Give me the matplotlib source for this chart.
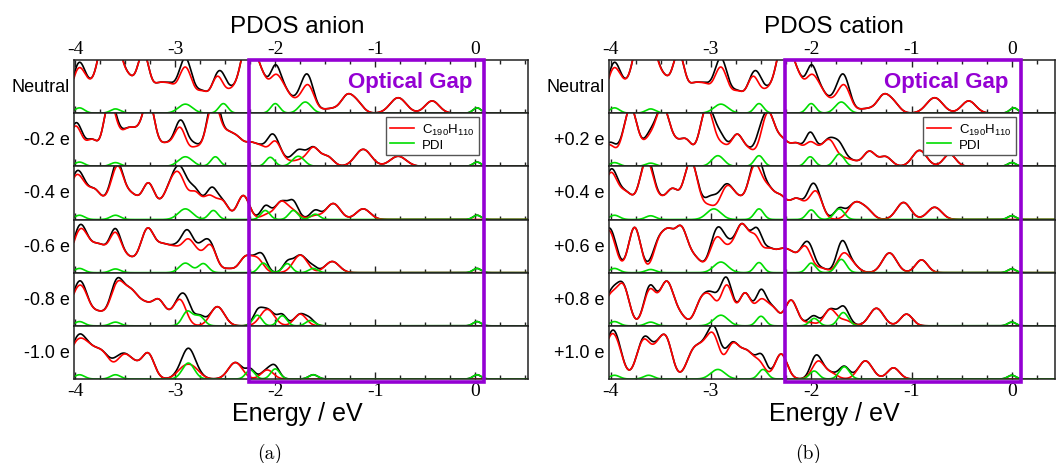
import numpy as np
import matplotlib.pyplot as plt
from matplotlib import transforms
from matplotlib.patches import Rectangle
from matplotlib.ticker import FixedLocator, FixedFormatter, MultipleLocator

plt.rcParams['font.family'] = ['Liberation Sans', 'DejaVu Sans']
plt.rcParams['mathtext.fontset'] = 'custom'
plt.rcParams['mathtext.rm'] = 'Liberation Sans'
plt.rcParams['mathtext.it'] = 'Liberation Sans:italic'
plt.rcParams['axes.unicode_minus'] = False

# levels: (energy eV, height, broadening eV)
neutral_c190 = [(-3.97, 0.8, 0.07), (-3.86, 0.25, 0.06), (-3.72, 1.2, 0.07), (-3.6, 1.2, 0.07),
                (-3.46, 0.5, 0.06), (-3.32, 1.1, 0.06), (-3.17, 0.45, 0.06), (-3.06, 0.42, 0.06),
                (-2.9, 0.85, 0.07), (-2.73, 0.35, 0.06), (-2.58, 0.65, 0.06), (-2.45, 0.3, 0.06),
                (-2.27, 1.4, 0.08), (-2.13, 0.45, 0.06), (-2.0, 0.6, 0.06), (-1.9, 0.33, 0.06),
                (-1.78, 0.17, 0.06), (-1.67, 0.5, 0.06), (-1.5, 0.05, 0.07), (-1.4, 0.06, 0.07),
                (-1.28, 0.3, 0.06), (-1.18, 0.18, 0.06), (-0.77, 0.29, 0.08), (-0.43, 0.23, 0.07)]
neutral_pdi = [(-3.96, 0.1, 0.05), (-3.6, 0.08, 0.05), (-2.9, 0.17, 0.07), (-2.52, 0.18, 0.045),
               (-2.0, 0.18, 0.045), (-1.7, 0.21, 0.06), (0.02, 0.1, 0.04)]

anion_labels = ['Neutral', '-0.2 e', '-0.4 e', '-0.6 e', '-0.8 e', '-1.0 e']
anion_c190 = [
    neutral_c190,
    [(-4.0, 0.75, 0.07), (-3.83, 0.45, 0.06), (-3.66, 1.2, 0.06), (-3.56, 0.25, 0.05), (-3.47, 0.6, 0.06),
     (-3.38, 0.35, 0.05), (-3.27, 1.2, 0.06), (-3.1, 0.4, 0.08), (-2.95, 0.65, 0.06), (-2.8, 0.3, 0.06),
     (-2.62, 1.2, 0.07), (-2.47, 0.45, 0.06), (-2.37, 0.4, 0.06), (-2.25, 0.35, 0.06), (-2.14, 0.3, 0.06),
     (-2.0, 0.45, 0.06), (-1.87, 0.07, 0.06), (-1.75, 0.1, 0.06), (-1.62, 0.34, 0.06), (-1.48, 0.18, 0.06),
     (-1.12, 0.32, 0.08), (-0.77, 0.19, 0.08)],
    [(-4.0, 0.75, 0.07), (-3.9, 0.3, 0.06), (-3.8, 0.45, 0.06), (-3.68, 0.25, 0.06), (-3.58, 0.85, 0.06),
     (-3.44, 0.45, 0.08), (-3.27, 0.6, 0.06), (-3.12, 0.25, 0.08), (-3.05, 0.25, 0.06), (-2.96, 0.75, 0.07),
     (-2.8, 0.45, 0.06), (-2.66, 0.4, 0.06), (-2.53, 0.33, 0.06), (-2.32, 0.45, 0.06), (-2.08, 0.09, 0.06),
     (-1.94, 0.32, 0.06), (-1.82, 0.15, 0.06), (-1.6, 0.07, 0.06), (-1.42, 0.3, 0.07), (-1.12, 0.2, 0.07)],
    [(-3.95, 0.8, 0.08), (-3.76, 0.48, 0.08), (-3.6, 0.65, 0.06), (-3.47, 0.25, 0.07), (-3.28, 0.8, 0.07),
     (-3.12, 0.45, 0.07), (-3.0, 0.33, 0.06), (-2.88, 0.52, 0.06), (-2.78, 0.28, 0.06), (-2.65, 0.5, 0.06),
     (-2.47, 0.07, 0.06), (-2.3, 0.28, 0.06), (-2.18, 0.25, 0.06), (-1.75, 0.33, 0.07), (-1.43, 0.21, 0.07)],
    [(-4.0, 0.5, 0.07), (-3.92, 0.4, 0.06), (-3.78, 0.25, 0.08), (-3.58, 0.75, 0.07), (-3.44, 0.55, 0.07),
     (-3.3, 0.35, 0.07), (-3.17, 0.4, 0.06), (-3.06, 0.15, 0.07), (-2.95, 0.45, 0.06), (-2.58, 0.36, 0.07),
     (-2.08, 0.31, 0.07), (-1.75, 0.22, 0.06)],
    [(-4.0, 0.55, 0.08), (-3.88, 0.45, 0.08), (-3.73, 0.45, 0.08), (-3.52, 0.4, 0.07), (-3.4, 0.22, 0.07),
     (-3.27, 0.45, 0.06), (-2.92, 0.18, 0.07), (-2.82, 0.18, 0.07), (-2.4, 0.31, 0.07), (-2.08, 0.17, 0.06)],
]
anion_pdi = [
    neutral_pdi,
    [(-3.96, 0.08, 0.05), (-3.6, 0.07, 0.05), (-2.9, 0.18, 0.07), (-2.6, 0.18, 0.045), (-2.05, 0.17, 0.045),
     (-1.77, 0.19, 0.06), (0.02, 0.08, 0.04)],
    [(-3.96, 0.08, 0.05), (-3.6, 0.08, 0.05), (-2.9, 0.2, 0.07), (-2.62, 0.17, 0.045), (-2.1, 0.17, 0.045),
     (-1.82, 0.17, 0.045), (-1.6, 0.1, 0.045), (0.02, 0.08, 0.04)],
    [(-3.96, 0.08, 0.05), (-3.6, 0.07, 0.05), (-2.9, 0.18, 0.06), (-2.72, 0.17, 0.05), (-2.12, 0.18, 0.045),
     (-1.88, 0.17, 0.045), (-1.62, 0.08, 0.045), (0.02, 0.08, 0.04)],
    [(-3.96, 0.08, 0.05), (-3.6, 0.07, 0.05), (-2.88, 0.27, 0.05), (-2.76, 0.18, 0.05), (-2.18, 0.2, 0.045),
     (-1.93, 0.19, 0.045), (-1.65, 0.1, 0.045), (0.02, 0.08, 0.04)],
    [(-3.96, 0.08, 0.05), (-3.6, 0.08, 0.05), (-2.87, 0.3, 0.06), (-2.25, 0.17, 0.045), (-2.0, 0.19, 0.045),
     (-1.62, 0.08, 0.045), (0.02, 0.08, 0.04)],
]

cation_labels = ['Neutral', '+0.2 e', '+0.4 e', '+0.6 e', '+0.8 e', '+1.0 e']
cation_c190 = [
    neutral_c190,
    [(-4.02, 0.4, 0.07), (-3.8, 1.1, 0.07), (-3.62, 0.4, 0.06), (-3.48, 1.1, 0.07), (-3.34, 0.28, 0.06),
     (-3.24, 0.42, 0.06), (-3.04, 1.1, 0.07), (-2.88, 0.32, 0.06), (-2.74, 0.55, 0.06), (-2.62, 0.25, 0.06),
     (-2.43, 1.0, 0.07), (-2.28, 0.4, 0.06), (-2.15, 0.38, 0.06), (-2.01, 0.4, 0.06), (-1.9, 0.2, 0.06),
     (-1.81, 0.42, 0.06), (-1.68, 0.12, 0.06), (-1.58, 0.08, 0.06), (-1.42, 0.28, 0.06), (-1.26, 0.18, 0.06),
     (-0.92, 0.3, 0.07), (-0.62, 0.23, 0.06)],
    [(-4.0, 0.85, 0.07), (-3.84, 0.45, 0.07), (-3.64, 1.1, 0.07), (-3.49, 0.25, 0.06), (-3.38, 0.5, 0.06),
     (-3.2, 1.1, 0.07), (-3.02, 0.22, 0.06), (-2.84, 0.6, 0.07), (-2.72, 0.25, 0.06), (-2.56, 1.0, 0.07),
     (-2.42, 0.45, 0.06), (-2.3, 0.38, 0.06), (-2.16, 0.33, 0.06), (-2.06, 0.18, 0.06), (-1.95, 0.5, 0.06),
     (-1.56, 0.31, 0.07), (-1.44, 0.15, 0.06), (-1.08, 0.32, 0.07), (-0.77, 0.23, 0.07)],
    [(-4.02, 0.8, 0.07), (-3.76, 0.85, 0.06), (-3.51, 0.6, 0.06), (-3.42, 0.45, 0.05), (-3.3, 0.85, 0.07),
     (-3.15, 0.22, 0.06), (-2.94, 0.65, 0.07), (-2.8, 0.33, 0.06), (-2.69, 0.8, 0.06), (-2.56, 0.62, 0.06),
     (-2.42, 0.38, 0.06), (-2.3, 0.33, 0.06), (-2.2, 0.3, 0.06), (-2.06, 0.48, 0.06), (-1.9, 0.08, 0.06),
     (-1.68, 0.34, 0.06), (-1.58, 0.12, 0.06), (-1.22, 0.37, 0.07), (-0.9, 0.24, 0.06)],
    [(-4.0, 0.55, 0.07), (-3.87, 0.68, 0.06), (-3.61, 0.65, 0.06), (-3.44, 0.82, 0.07), (-3.3, 0.15, 0.06),
     (-3.1, 0.42, 0.06), (-3.0, 0.45, 0.06), (-2.84, 0.75, 0.06), (-2.66, 0.6, 0.06), (-2.5, 0.45, 0.06),
     (-2.38, 0.3, 0.06), (-2.2, 0.48, 0.06), (-2.02, 0.06, 0.06), (-1.81, 0.31, 0.06), (-1.66, 0.1, 0.06),
     (-1.35, 0.33, 0.07), (-1.05, 0.22, 0.06)],
    [(-4.0, 0.7, 0.07), (-3.92, 0.3, 0.06), (-3.67, 0.72, 0.07), (-3.53, 0.42, 0.06), (-3.44, 0.65, 0.06),
     (-3.17, 0.52, 0.07), (-3.06, 0.38, 0.06), (-2.97, 0.7, 0.06), (-2.78, 0.65, 0.07), (-2.64, 0.42, 0.06),
     (-2.52, 0.3, 0.06), (-2.3, 0.47, 0.06), (-1.93, 0.33, 0.06), (-1.8, 0.1, 0.06), (-1.46, 0.34, 0.07),
     (-1.18, 0.21, 0.06)],
]
cation_pdi = [
    neutral_pdi,
    [(-3.96, 0.07, 0.05), (-3.6, 0.06, 0.05), (-2.93, 0.2, 0.06), (-2.52, 0.2, 0.045), (-2.01, 0.18, 0.045),
     (-1.72, 0.23, 0.05), (0.0, 0.07, 0.04)],
    [(-3.96, 0.08, 0.05), (-3.6, 0.07, 0.05), (-2.97, 0.2, 0.07), (-2.52, 0.2, 0.045), (-2.0, 0.18, 0.045),
     (-1.72, 0.2, 0.05), (0.0, 0.07, 0.04)],
    [(-3.96, 0.08, 0.05), (-3.6, 0.06, 0.05), (-2.9, 0.2, 0.07), (-2.52, 0.19, 0.045), (-2.0, 0.18, 0.045),
     (-1.7, 0.25, 0.05), (0.0, 0.07, 0.04)],
    [(-3.96, 0.08, 0.05), (-3.6, 0.07, 0.05), (-2.9, 0.2, 0.07), (-2.5, 0.18, 0.045), (-1.97, 0.14, 0.045),
     (-1.68, 0.25, 0.05), (0.0, 0.07, 0.04)],
    [(-3.96, 0.07, 0.05), (-3.62, 0.07, 0.05), (-2.93, 0.18, 0.07), (-2.48, 0.18, 0.045), (-1.97, 0.15, 0.045),
     (-1.67, 0.23, 0.05), (0.0, 0.07, 0.04)],
]

tick_vals = [-4, -3, -2, -1, 0]
tick_labels = ['-4', '-3', '-2', '-1', '0']
optical_gap = (-2.26, 0.09)

energy = np.linspace(-4.2, 0.7, 2500)


def pdos(levels):
    y = np.zeros_like(energy)
    for e0, h, w in levels:
        y += h * np.exp(-(energy - e0) ** 2 / (2 * w * w))
    return y


W, H = 1056, 464
fig = plt.figure(figsize=(W / 100, H / 100), dpi=100)
top = 1 - 61 / H
bottom = 1 - 380 / H
row_h = (top - bottom) / 6
purple = '#9400D3'

panels = [
    dict(left=74, right=528, xlim=(-4.015, 0.53), labels=anion_labels, c190=anion_c190, pdi=anion_pdi,
         title='PDOS anion', tx=297, cap='(a)', cx=270),
    dict(left=609, right=1055, xlim=(-4.015, 0.43), labels=cation_labels, c190=cation_c190, pdi=cation_pdi,
         title='PDOS cation', tx=834, cap='(b)', cx=808),
]

for p in panels:
    axes = []
    for i in range(6):
        ax = fig.add_axes([p['left'] / W, top - (i + 1) * row_h, (p['right'] - p['left']) / W, row_h])
        red = pdos(p['c190'][i])
        green = pdos(p['pdi'][i])
        ax.plot(energy, red + green, color='black', lw=1.2)
        lr, = ax.plot(energy, red, color='#ff0000', lw=1.2)
        lg, = ax.plot(energy, green, color='#00dd00', lw=1.2)
        ax.set_xlim(*p['xlim'])
        ax.set_ylim(0, 1)
        ax.set_yticks([])
        ax.xaxis.set_major_locator(FixedLocator(tick_vals))
        ax.xaxis.set_major_formatter(FixedFormatter(tick_labels))
        ax.xaxis.set_minor_locator(MultipleLocator(0.25))
        ax.tick_params(axis='x', which='both', direction='in', top=(i == 0), bottom=True,
                       labeltop=(i == 0), labelbottom=(i == 5), width=1.0, color='#222222')
        ax.tick_params(axis='x', which='major', length=5, pad=2,
                       labelsize=14, labelfontfamily='Liberation Serif')
        ax.tick_params(axis='x', which='minor', length=3)
        for s in ax.spines.values():
            s.set_linewidth(1.1)
            s.set_color('#222222')
        ax.text(-0.009, 0.5, p['labels'][i], transform=ax.transAxes, ha='right', va='center', fontsize=13)
        if i == 1:
            ax.legend([lr, lg], ['C$_{190}$H$_{110}$', 'PDI'], loc='upper right',
                      bbox_to_anchor=(0.04, 0.93),
                      bbox_transform=transforms.blended_transform_factory(ax.transData, ax.transAxes),
                      fontsize=9.5, fancybox=False, edgecolor='#555555', framealpha=1,
                      handlelength=1.8, handletextpad=0.6, borderpad=0.35, labelspacing=0.15,
                      borderaxespad=0)
        axes.append(ax)

    axes[0].text(-0.65, 0.49, 'Optical Gap', color=purple, fontsize=16, fontweight='bold',
                 ha='center', va='baseline')

    trans = transforms.blended_transform_factory(axes[0].transData, fig.transFigure)
    yb = bottom - 3 / H
    box = Rectangle((optical_gap[0], yb), optical_gap[1] - optical_gap[0], top - yb,
                    transform=trans, fill=False, edgecolor=purple, lw=2.6, zorder=10,
                    clip_on=False, joinstyle='miter')
    fig.add_artist(box)

    fig.text(p['tx'] / W, 1 - 33 / H, p['title'], ha='center', va='baseline', fontsize=17.5)
    fig.text(p['tx'] / W, 1 - 421 / H, 'Energy / eV', ha='center', va='baseline', fontsize=18)
    fig.text(p['cx'] / W, 1 - 459 / H, p['cap'], ha='center', va='baseline', fontsize=14,
             family='cmr10')

fig.savefig('out.png', dpi=100)
